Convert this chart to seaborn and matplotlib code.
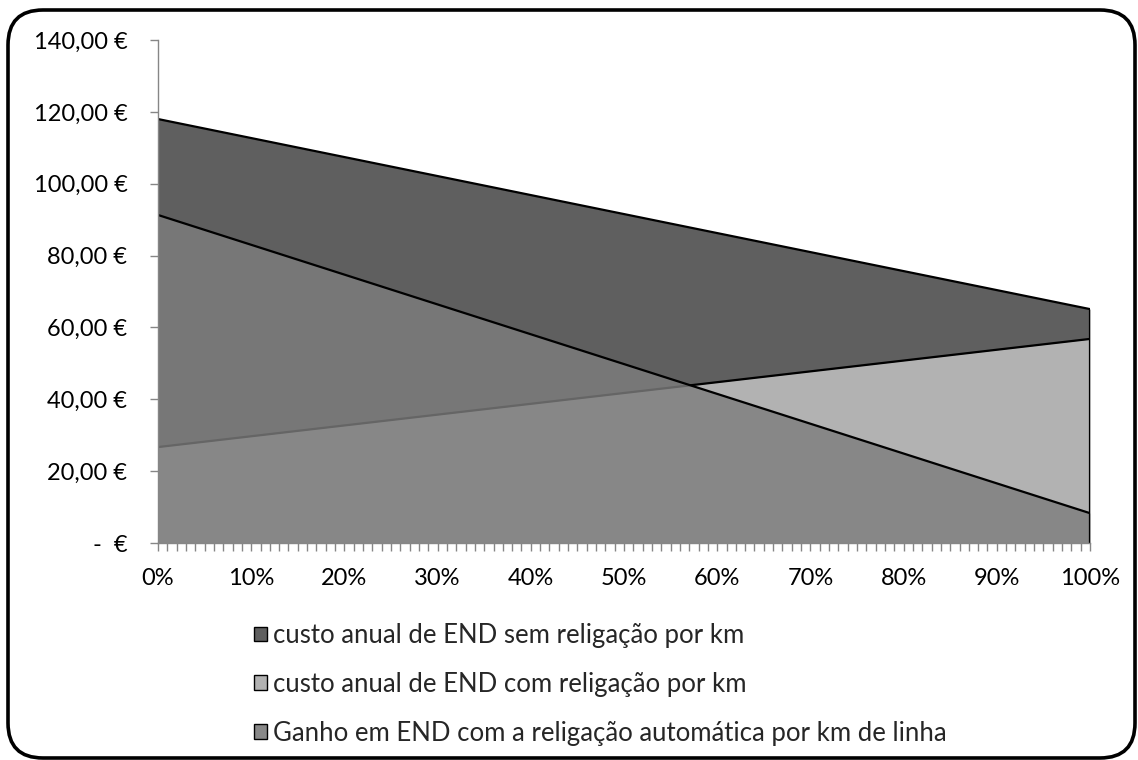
import matplotlib
matplotlib.use("Agg")
import matplotlib.pyplot as plt
from matplotlib.patches import FancyBboxPatch, Patch
from matplotlib.ticker import FixedLocator, MultipleLocator
import seaborn as sns
import pandas as pd

# Share of line length with automatic reclosing (%)
pct = [0, 100]
# Annual cost of energy not supplied per km (EUR)
custo_sem = [118.0, 65.1]
custo_com = [26.7, 56.8]
ganho = [91.3, 8.3]

labels = [
    "custo anual de END sem religação por km",
    "custo anual de END com religação por km",
    "Ganho em END com a religação automática por km de linha",
]
y_ticks = [0, 20, 40, 60, 80, 100, 120, 140]
x_ticks = list(range(0, 101, 10))

df = pd.DataFrame({"pct": pct, "sem": custo_sem, "com": custo_com, "ganho": ganho})

sns.set_theme(style="white")
plt.rcParams["font.family"] = ["Lato", "DejaVu Sans"]

fig = plt.figure(figsize=(11.38, 7.60), dpi=100)
ax = fig.add_axes([158 / 1138, 1 - 543 / 760, (1090 - 158) / 1138, (543 - 40) / 760])

c_dark = "#5f5f5f"
c_light = "#b2b2b2"
c_mid = "#7d7d7d"
mid_alpha = 0.81

# back: cost without reclosing
ax.fill_between(df["pct"], 0, df["sem"], color=c_dark, lw=0, zorder=1)
sns.lineplot(x=[pct[0], pct[1], pct[1]], y=[custo_sem[0], custo_sem[1], 0],
             color="black", lw=1.6, ax=ax, zorder=1.5, estimator=None, sort=False)
# middle: cost with reclosing
ax.fill_between(df["pct"], 0, df["com"], color=c_light, lw=0, zorder=2)
sns.lineplot(x=[pct[0], pct[1], pct[1]], y=[custo_com[0], custo_com[1], 0],
             color="black", lw=1.6, ax=ax, zorder=2.5, estimator=None, sort=False)
# front: gain, semi-transparent
ax.fill_between(df["pct"], 0, df["ganho"], color=c_mid, alpha=mid_alpha, lw=0, zorder=3)
sns.lineplot(x=[pct[0], pct[1], pct[1]], y=[ganho[0], ganho[1], 0],
             color="black", lw=1.6, ax=ax, zorder=3.5, estimator=None, sort=False)

ax.set_xlim(0, 100)
ax.set_ylim(0, 140)
ax.set_xlabel("")
ax.set_ylabel("")

ax.yaxis.set_major_locator(FixedLocator(y_ticks))
ax.set_yticklabels(["-  €"] + [f"{v:.2f} €".replace(".", ",") for v in y_ticks[1:]])
ax.xaxis.set_major_locator(FixedLocator(x_ticks))
ax.xaxis.set_minor_locator(MultipleLocator(1))
ax.set_xticklabels([f"{v}%" for v in x_ticks])

axis_grey = "#868686"
for side in ["top", "right"]:
    ax.spines[side].set_visible(False)
for side in ["left", "bottom"]:
    ax.spines[side].set_color(axis_grey)
    ax.spines[side].set_linewidth(1.0)
    ax.spines[side].set_zorder(4)

ax.tick_params(axis="y", which="major", direction="out", length=6, width=1,
               color=axis_grey, left=True, labelsize=17, pad=16, labelcolor="black")
ax.tick_params(axis="x", which="both", direction="out", length=6, width=1,
               color=axis_grey, bottom=True, labelsize=17, pad=12, labelcolor="black")
ax.grid(False)
ax.set_facecolor("white")

handles = [
    Patch(facecolor=c_dark, edgecolor="black", lw=1.0),
    Patch(facecolor=c_light, edgecolor="black", lw=1.0),
    Patch(facecolor="#888888", edgecolor="black", lw=1.0),
]
fig.legend(handles, labels, loc="upper left", bbox_to_anchor=(254 / 1138, 1 - 623 / 760),
           frameon=False, fontsize=18.5, handlelength=0.5, handleheight=0.5,
           handletextpad=0.25, labelspacing=0.93, borderpad=0, borderaxespad=0)

# rounded chart-area frame
frame = FancyBboxPatch((0.08, 0.02), 11.38 - 0.11, 7.60 - 0.12,
                       boxstyle="round,pad=0,rounding_size=0.35",
                       transform=fig.dpi_scale_trans, fill=False,
                       edgecolor="black", lw=2.6, zorder=10)
fig.patches.append(frame)

fig.savefig("out.png", dpi=100)
